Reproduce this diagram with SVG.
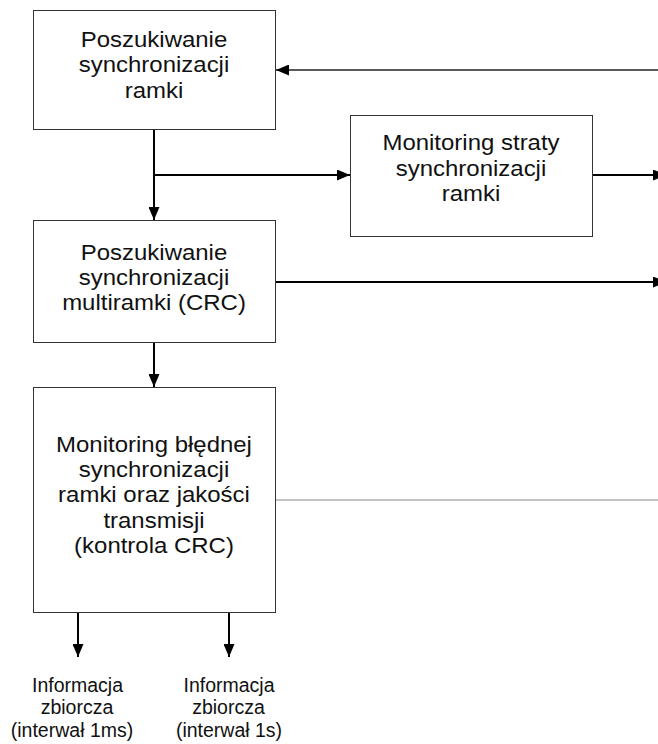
<svg xmlns="http://www.w3.org/2000/svg" width="658" height="744" viewBox="0 0 658 744">
  <style>
    .box { fill: #ffffff; stroke: #333333; stroke-width: 1; }
    .lbl { font-family: "Liberation Sans", Arial, sans-serif; font-size: 22px; fill: #111111; text-anchor: middle; }
    .out { font-family: "Liberation Sans", Arial, sans-serif; font-size: 19.5px; fill: #111111; text-anchor: middle; }
    .ln { fill: none; stroke: #000000; stroke-width: 2; }
    .thin { fill: none; stroke: #222222; stroke-width: 1.3; }
    .grey { fill: none; stroke: #8a8a8a; stroke-width: 1; }
  </style>
  <defs>
    <marker id="arr" markerUnits="userSpaceOnUse" markerWidth="13" markerHeight="11" refX="13" refY="5.5" orient="auto">
      <path d="M0,0 L13,5.5 L0,11 Z" fill="#000000"/>
    </marker>
  </defs>
  <rect width="658" height="744" fill="#ffffff"/>

  <!-- connectors -->
  <g id="connectors">
    <!-- feedback into frame sync search -->
    <line class="thin" x1="658" y1="70" x2="276" y2="70" marker-end="url(#arr)"/>
    <!-- frame sync -> multiframe sync -->
    <line class="ln" x1="154" y1="129" x2="154" y2="220" marker-end="url(#arr)"/>
    <!-- branch to loss-of-sync monitoring -->
    <line class="ln" x1="154" y1="175" x2="350" y2="175" marker-end="url(#arr)"/>
    <!-- loss-of-sync monitoring output -->
    <line class="ln" x1="592" y1="175" x2="666" y2="175" marker-end="url(#arr)"/>
    <!-- multiframe sync output -->
    <line class="ln" x1="275" y1="282" x2="666" y2="282" marker-end="url(#arr)"/>
    <!-- multiframe sync -> CRC monitoring -->
    <line class="ln" x1="154" y1="342" x2="154" y2="387" marker-end="url(#arr)"/>
    <!-- CRC monitoring side line -->
    <line class="grey" x1="275" y1="500" x2="658" y2="500"/>
    <!-- summary outputs -->
    <line class="ln" x1="78" y1="612" x2="78" y2="657" marker-end="url(#arr)"/>
    <line class="ln" x1="229" y1="612" x2="229" y2="657" marker-end="url(#arr)"/>
  </g>

  <g id="frame-sync">
    <rect class="box" x="33.5" y="10.5" width="242" height="119"/>
    <g transform="translate(154 0) scale(1.09 1)">
      <text class="lbl" x="0" y="47">Poszukiwanie</text>
      <text class="lbl" x="0" y="72.5">synchronizacji</text>
      <text class="lbl" x="0" y="98">ramki</text>
    </g>
  </g>

  <g id="loss-monitor">
    <rect class="box" x="350.5" y="115.5" width="242" height="121"/>
    <g transform="translate(471 0) scale(1.09 1)">
      <text class="lbl" x="0" y="150.5">Monitoring straty</text>
      <text class="lbl" x="0" y="176">synchronizacji</text>
      <text class="lbl" x="0" y="201.5">ramki</text>
    </g>
  </g>

  <g id="multiframe-sync">
    <rect class="box" x="33.5" y="220.5" width="242" height="122"/>
    <g transform="translate(154 0) scale(1.09 1)">
      <text class="lbl" x="0" y="260">Poszukiwanie</text>
      <text class="lbl" x="0" y="285">synchronizacji</text>
      <text class="lbl" x="0" y="310.5">multiramki (CRC)</text>
    </g>
  </g>

  <g id="crc-monitor">
    <rect class="box" x="33.5" y="387.5" width="242" height="225"/>
    <g transform="translate(154 0) scale(1.09 1)">
      <text class="lbl" x="0" y="452">Monitoring błędnej</text>
      <text class="lbl" x="0" y="477">synchronizacji</text>
      <text class="lbl" x="0" y="502.5">ramki oraz jakości</text>
      <text class="lbl" x="0" y="528">transmisji</text>
      <text class="lbl" x="0" y="553">(kontrola CRC)</text>
    </g>
  </g>

  <g id="summary-1ms">
    <text class="out" x="77.5" y="691.5">Informacja</text>
    <text class="out" x="77" y="714">zbiorcza</text>
    <text class="out" x="72" y="736.5">(interwał 1ms)</text>
  </g>

  <g id="summary-1s">
    <text class="out" x="229" y="691.5">Informacja</text>
    <text class="out" x="228.5" y="714">zbiorcza</text>
    <text class="out" x="229" y="736.5">(interwał 1s)</text>
  </g>
</svg>
